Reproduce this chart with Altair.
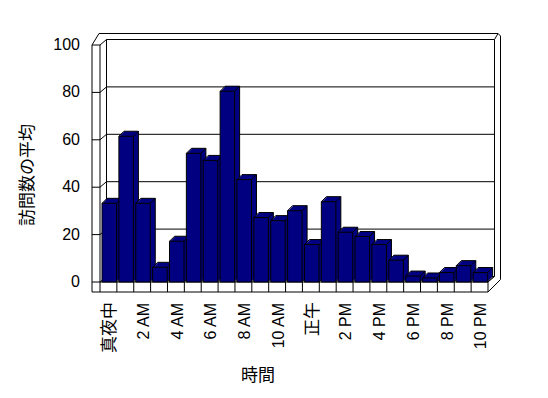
import altair as alt
import pandas as pd

# ---- data ----
hours = ["真夜中", "1 AM", "2 AM", "3 AM", "4 AM", "5 AM", "6 AM", "7 AM", "8 AM",
         "9 AM", "10 AM", "11 AM", "正午", "1 PM", "2 PM", "3 PM", "4 PM", "5 PM",
         "6 PM", "7 PM", "8 PM", "9 PM", "10 PM"]
visits = [33.2, 61.5, 33.2, 6.2, 17.2, 54.3, 51.3, 80.5, 43.2, 27.2, 25.9, 30.1,
          15.8, 33.9, 21.0, 19.2, 15.8, 9.2, 2.5, 1.7, 4.0, 6.9, 4.0]
tick_labels = ["真夜中", "2 AM", "4 AM", "6 AM", "8 AM", "10 AM", "正午",
               "2 PM", "4 PM", "6 PM", "8 PM", "10 PM"]
y_ticks = [0, 20, 40, 60, 80, 100]
x_title = "時間"
y_title = "訪問数の平均"

# ---- geometry / style ----
N = len(visits)
W, H = 388, 237
PXU = W / N          # px per slot
PYU = H / 100.0      # px per value unit
NAVY = "#000080"
FONT = "Liberation Sans, Noto Sans CJK JP"
CJK = "Noto Sans CJK JP, Liberation Sans"
BD = 5               # bar depth (px)
DX, DY = 6.5, 5.5    # chart depth (px)
TX, TY = 6, 6        # wall thickness (px)
LW, FT = 8, 10       # left wall face width, floor thickness (px)

xs = alt.Scale(domain=[0, N], nice=False, zero=False)
ys = alt.Scale(domain=[0, 100], nice=False, zero=False)


def seg(x1, y1, x2, y2):
    return {"x": x1 / PXU, "y": y1 / PYU, "x2": x2 / PXU, "y2": y2 / PYU}


BR = W + DX
OR = BR + TX
BT = H + DY
OT = BT + TY
frame = [
    seg(-LW, -FT, -LW, H),
    seg(0, 0, 0, H),
    seg(-LW, H, -1, OT),
    seg(-1, OT, OR - 2.5, OT),
    seg(OR - 2.5, OT, OR, OT - 2.5),
    seg(OR, OT - 2.5, OR, OR - W - FT),
    seg(DX, DY, DX, BT),
    seg(BR, DY, BR, BT),
    seg(BR, BT, OR - 2.5, OT),
    seg(0, 0, W, 0),
    seg(-LW, -FT, W, -FT),
    seg(W, -FT, OR, OR - W - FT),
    seg(W, 0, BR, DY),
]
for v in y_ticks:
    yv = v * PYU
    frame.append(seg(DX, yv + DY, BR, yv + DY))
    frame.append(seg(-LW, yv, 0, yv))
    frame.append(seg(0, yv, DX, yv + DY))
for k in range(N + 1):
    frame.append(seg(k * PXU, -FT, k * PXU, 0))
frame_df = pd.DataFrame(frame)

rows = []
for i, v in enumerate(visits):
    if i < N - 1:
        end = max(min(v, visits[i + 1]) - (BD - 2.4) / PYU, 0)
    else:
        end = 0
    rows.append({"hour": hours[i], "value": v, "x0": i + 0.12, "x1": i + 0.98,
                 "zero": 0, "edge_end": end})
df = pd.DataFrame(rows)

xlab_df = pd.DataFrame({"label": tick_labels,
                        "pos": [i + 0.6 for i in range(0, N, 2)]})
ylab_df = pd.DataFrame({"v": y_ticks})

layers = []
layers.append(
    alt.Chart(frame_df).mark_rule(color="black", strokeWidth=1).encode(
        x=alt.X("x:Q", scale=xs, axis=None), x2="x2:Q",
        y=alt.Y("y:Q", scale=ys, axis=None), y2="y2:Q")
)
base = alt.Chart(df)
for k in range(1, BD + 1):
    layers.append(
        base.mark_rect(fill=NAVY, strokeWidth=0, xOffset=k, x2Offset=k,
                       yOffset=-k, y2Offset=-k).encode(
            x=alt.X("x0:Q", scale=xs, axis=None), x2="x1:Q",
            y=alt.Y("value:Q", scale=ys, axis=None), y2="zero:Q")
    )

edge = dict(color="black", strokeWidth=1)
layers.append(base.mark_rule(xOffset=BD, x2Offset=BD, yOffset=-BD, y2Offset=-BD, **edge).encode(
    x=alt.X("x0:Q", scale=xs, axis=None), x2="x1:Q",
    y=alt.Y("value:Q", scale=ys, axis=None), y2="value:Q"))
layers.append(base.mark_rule(xOffset=BD, x2Offset=BD, yOffset=-BD, y2Offset=-BD, **edge).encode(
    x=alt.X("x1:Q", scale=xs, axis=None), x2="x1:Q",
    y=alt.Y("value:Q", scale=ys, axis=None), y2="edge_end:Q"))
for xf, yf in [("x0", "value"), ("x1", "value"), ("x1", "zero")]:
    layers.append(base.mark_rule(x2Offset=BD, y2Offset=-BD, **edge).encode(
        x=alt.X(f"{xf}:Q", scale=xs, axis=None), x2=f"{xf}:Q",
        y=alt.Y(f"{yf}:Q", scale=ys, axis=None), y2=f"{yf}:Q"))

layers.append(
    base.mark_rect(fill=NAVY, stroke="black", strokeWidth=1).encode(
        x=alt.X("x0:Q", scale=xs, axis=None), x2="x1:Q",
        y=alt.Y("value:Q", scale=ys, axis=None), y2="zero:Q",
        tooltip=["hour:N", "value:Q"])
)

# category labels (rotated, reading bottom to top): Latin and CJK sized apart
is_latin = "test(/AM|PM/, datum.label)"
layers.append(
    alt.Chart(xlab_df).transform_filter(is_latin).mark_text(
        angle=270, align="right", baseline="middle",
        font=FONT, fontSize=16, color="black").encode(
        x=alt.X("pos:Q", scale=xs, axis=None), y=alt.value(H + 21), text="label:N")
)
layers.append(
    alt.Chart(xlab_df).transform_filter("!" + is_latin).mark_text(
        angle=270, align="right", baseline="middle",
        font=CJK, fontSize=17, color="black").encode(
        x=alt.X("pos:Q", scale=xs, axis=None), y=alt.value(H + 20), text="label:N")
)
# value labels
layers.append(
    alt.Chart(ylab_df).mark_text(align="right", baseline="middle",
                                 font=FONT, fontSize=16, color="black").encode(
        y=alt.Y("v:Q", scale=ys, axis=None), x=alt.value(-20), text=alt.Text("v:Q"))
)
# axis titles
layers.append(
    alt.Chart(pd.DataFrame({"t": [x_title]})).mark_text(
        align="center", baseline="middle", font=CJK, fontSize=17, color="black").encode(
        x=alt.value(158), y=alt.value(H + 94), text="t:N")
)
layers.append(
    alt.Chart(pd.DataFrame({"t": [y_title]})).mark_text(
        angle=270, align="center", baseline="middle", font=CJK, fontSize=17,
        color="black").encode(
        x=alt.value(-72), y=alt.value(130), text="t:N")
)

chart = alt.layer(*layers).properties(
    width=W, height=H,
    autosize=alt.AutoSizeParams(type="none"),
    padding={"left": 100, "top": 45, "right": 60, "bottom": 116},
    background="white",
).configure_view(stroke=None)

chart.save("out.html", embed_options={"renderer": "svg", "actions": False})
